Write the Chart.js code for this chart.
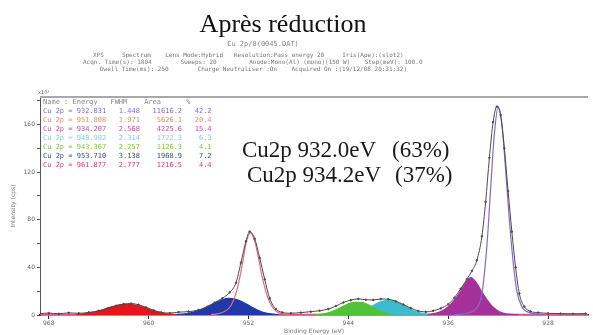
<!DOCTYPE html>
<html>
<head>
<meta charset="utf-8">
<script src="https://cdn.jsdelivr.net/npm/chart.js@4.4.1/dist/chart.umd.min.js"></script>
<style>
  html, body { margin: 0; padding: 0; background: #fff; }
  #xps { display: block; }
</style>
</head>
<body>
<canvas id="xps" width="593" height="335"></canvas>
<script>
// --- DATA (binding energy eV, intensity x10^3 cps) ---

const energyTicks = [968, 960, 952, 944, 936, 928]
const intensityTicks = [0, 20, 40, 60, 80, 100, 120, 140, 160, 180]
const intensityLabels = ['0', '', '40', '', '80', '', '120', '', '160', '']

const rawSpectrum = [
    [968.7, 1.2], [968, 1.6], [967.2, 1.0], [966.4, 1.8], [965.6, 1.4], [964.8, 2.2], [964, 3.5],
    [963.3, 5.5], [962.6, 7.8], [962, 9.2], [961.4, 9.6], [960.8, 8.6], [960.2, 6.4], [959.6, 4.0],
    [959, 2.2], [958.3, 1.6], [957.6, 2.4], [956.8, 2.8], [956, 4.2], [955.3, 7], [954.7, 10.5],
    [954.1, 14], [953.5, 19], [953, 27], [952.6, 44], [952.2, 62], [951.9, 70], [951.5, 64],
    [951.1, 48], [950.7, 30], [950.3, 14], [949.8, 5], [949.3, 2.2], [948.6, 1.5], [947.8, 2.0],
    [947, 2.8], [946.3, 3.6], [945.6, 5], [945, 7.5], [944.4, 10.5], [943.8, 12.5], [943.2, 13.5],
    [942.6, 12.8], [942, 12.6], [941.4, 13.4], [940.8, 13.2], [940.2, 11.5], [939.6, 8.8], [939, 5.8],
    [938.4, 3.4], [937.8, 2.6], [937.2, 3.5], [936.6, 5.5], [936, 9], [935.5, 14.5], [935, 22],
    [934.5, 30], [934.1, 37], [933.7, 46], [933.3, 66], [933, 95], [932.7, 132], [932.4, 162],
    [932.1, 175], [931.8, 168], [931.5, 140], [931.2, 104], [930.9, 70], [930.6, 40], [930.3, 18],
    [929.9, 7], [929.4, 3], [928.8, 2], [928, 1.4], [927, 1.2], [926, 1.0], [925, 1.2]
]

const peak9320 = [
    [935.5, 0.3], [934.5, 1.5], [933.8, 5], [933.3, 18], [932.9, 58], [932.6, 106], [932.3, 152],
    [932.0, 175], [931.7, 160], [931.4, 122], [931.1, 80], [930.8, 45], [930.5, 20], [930.1, 7],
    [929.5, 2], [928.5, 0.5]
]
const peak9518 = [
    [955, 0.3], [954, 2.5], [953.4, 8], [952.9, 22], [952.5, 42], [952.2, 60], [951.85, 69],
    [951.5, 62], [951.2, 48], [950.9, 32], [950.5, 16], [950.1, 7], [949.6, 2], [948.8, 0.4]
]
const peak9342 = [
    [937.6, 0.3], [936.6, 2.8], [936, 7], [935.5, 12.5], [935, 20], [934.6, 27], [934.2, 31.5],
    [933.8, 28], [933.4, 21], [932.9, 13], [932.4, 6.5], [931.9, 2.8], [931.2, 0.8], [930.4, 0.2]
]
const peak9409 = [
    [943.6, 0.3], [942.9, 2.8], [942.2, 6.8], [941.6, 10.2], [941, 12], [940.4, 11.8], [939.8, 9.4],
    [939.2, 6], [938.6, 2.8], [937.9, 0.9], [937, 0.2]
]
const peak9435 = [
    [946.6, 0.2], [945.6, 1.8], [944.9, 4.8], [944.2, 8.4], [943.6, 10.6], [943, 10.6], [942.4, 8.6],
    [941.8, 5.2], [941.2, 2.2], [940.4, 0.4]
]
const peak9537 = [
    [957.8, 0.2], [956.8, 1.5], [955.8, 4.5], [955, 8.5], [954.3, 12], [953.6, 14], [953, 13.2],
    [952.4, 10.5], [951.8, 7], [951.2, 3.8], [950.5, 1.4], [949.6, 0.2]
]
const peak9619 = [
    [965.8, 0.2], [964.8, 1.5], [963.8, 4], [963, 6.8], [962.3, 8.6], [961.6, 9], [960.9, 8],
    [960.2, 5.8], [959.5, 3.2], [958.7, 1.2], [957.8, 0.2]
]
const backgroundLine = [[968.7, 0.6], [924.8, 0.6]]

// fit table shown in the plot corner
const tableHeader = 'Name : Energy   FWHM    Area      %'
const tableRows = [
    'Cu 2p = 932.031   1.448   11616.2   42.2',
    'Cu 2p = 951.808   1.971    5626.1   20.4',
    'Cu 2p = 934.207   2.568    4225.6   15.4',
    'Cu 2p = 940.902   2.314    1722.3    6.3',
    'Cu 2p = 943.367   2.257    1126.3    4.1',
    'Cu 2p = 953.710   3.138    1968.9    7.2',
    'Cu 2p = 961.877   2.777    1216.5    4.4'
]
const tableColors = ['#8a6ad0', '#f08a6a', '#d04aa0', '#7fd2dc', '#7cc83a', '#3a4a8c', '#e2405a']

const headerLines = [
    'XPS     Spectrum    Lens Mode:Hybrid   Resolution:Pass energy 20     Iris(Ape):(slot2)',
    'Acqn. Time(s): 1804        Sweeps: 20         Anode:Mono(Al) (mono)(150 W)    Step(meV): 100.0',
    'Dwell Time(ms): 250        Charge Neutraliser :On    Acquired On :(19/12/08 20:31:32)'
]

const toXY = arr => arr.map(p => ({ x: p[0], y: p[1] }))

// --- DECORATION PLUGIN ---

const decor = {
    id: 'decor',
    beforeDatasetsDraw(chart) {
        const { ctx, chartArea } = chart
        ctx.save()
        ctx.strokeStyle = '#a8a8a8'
        ctx.lineWidth = 2
        ctx.beginPath()
        ctx.moveTo(chartArea.left, chartArea.top)
        ctx.lineTo(chartArea.right, chartArea.top)
        ctx.stroke()
        ctx.restore()
    },
    afterDraw(chart) {
        const { ctx, chartArea } = chart
        ctx.save()

        ctx.fillStyle = '#111'
        ctx.textAlign = 'center'
        ctx.textBaseline = 'alphabetic'
        ctx.font = '26px "Liberation Serif"'
        ctx.fillText('Après réduction', 283, 32)

        ctx.fillStyle = '#888'
        ctx.font = '7px "DejaVu Sans Mono"'
        ctx.fillText('Cu 2p/8(0045.DAT)', 263, 46)

        ctx.textAlign = 'left'
        ctx.font = '6px "DejaVu Sans Mono"'
        ctx.fillStyle = '#777'
        ctx.fillText(headerLines[0], 93, 57, 344)
        ctx.fillText(headerLines[1], 83, 64, 354)
        ctx.fillText(headerLines[2], 100, 71, 347)

        ctx.font = '5px "DejaVu Sans"'
        ctx.fillStyle = '#666'
        ctx.fillText('x10³', chartArea.left - 2, chartArea.top - 3)

        // fit table
        ctx.font = '7px "DejaVu Sans Mono"'
        ctx.fillStyle = '#888'
        ctx.fillText(tableHeader, chartArea.left + 3, chartArea.top + 7, 160)
        tableRows.forEach((row, i) => {
            ctx.fillStyle = tableColors[i]
            ctx.fillText(row, chartArea.left + 3, chartArea.top + 16 + i * 9, 190)
        })

        // annotation
        ctx.fillStyle = '#1a1a1a'
        ctx.font = '23px "Liberation Serif"'
        ctx.fillText('Cu2p 932.0eV', 242, 157)
        ctx.fillText('(63%)', 392, 157)
        ctx.fillText('Cu2p 934.2eV', 247, 182)
        ctx.fillText('(37%)', 395, 182)

        ctx.restore()
    }
}

// --- CHART ---

function lineSet(label, points, color, filled, order) {
    return {
        label: label,
        data: toXY(points),
        borderColor: color,
        backgroundColor: filled ? color : 'transparent',
        fill: filled ? 'origin' : false,
        borderWidth: 1.2,
        pointRadius: 0,
        cubicInterpolationMode: 'monotone',
        order: order
    }
}

function initChart() {
    const ctx = document.getElementById('xps').getContext('2d')

    new Chart(ctx, {
        type: 'line',
        data: {
            datasets: [
                {
                    label: 'Raw',
                    data: toXY(rawSpectrum),
                    borderColor: '#4a4a4a',
                    backgroundColor: '#4a4a4a',
                    borderWidth: 1,
                    pointRadius: 0.8,
                    fill: false,
                    cubicInterpolationMode: 'monotone',
                    order: 0
                },
                lineSet('Cu 2p 932.0', peak9320, '#8a68d0', false, 1),
                lineSet('Cu 2p 951.8', peak9518, '#e86a80', false, 2),
                lineSet('Cu 2p 934.2', peak9342, '#a4309a', true, 3),
                lineSet('Cu 2p 943.4', peak9435, '#52c23a', true, 4),
                lineSet('Cu 2p 940.9', peak9409, '#3cbccc', true, 5),
                lineSet('Cu 2p 953.7', peak9537, '#2038a8', true, 6),
                lineSet('Cu 2p 961.9', peak9619, '#e8141c', true, 7),
                lineSet('Background', backgroundLine, '#e0508a', false, 8)
            ]
        },
        options: {
            responsive: false,
            animation: false,
            devicePixelRatio: 1,
            layout: { padding: { top: 97, left: 0, right: 0, bottom: 0 } },
            plugins: {
                legend: { display: false },
                tooltip: { enabled: false }
            },
            scales: {
                x: {
                    type: 'linear',
                    reverse: true,
                    min: 924.8,
                    max: 968.7,
                    afterBuildTicks: s => { s.ticks = energyTicks.map(v => ({ value: v })) },
                    afterFit: s => { s.height = 20 },
                    ticks: {
                        color: '#666',
                        font: { size: 6, family: 'DejaVu Sans' },
                        maxRotation: 0,
                        padding: 1
                    },
                    grid: { drawOnChartArea: false, tickLength: 4, color: '#333' },
                    border: { display: true, color: '#333', width: 1.5 },
                    title: {
                        display: true,
                        text: 'Binding Energy (eV)',
                        color: '#777',
                        font: { size: 6, family: 'DejaVu Sans' },
                        padding: { top: 0, bottom: 0 }
                    }
                },
                y: {
                    min: 0,
                    max: 183,
                    afterBuildTicks: s => { s.ticks = intensityTicks.map(v => ({ value: v })) },
                    afterFit: s => { s.width = 40 },
                    ticks: {
                        color: '#666',
                        font: { size: 6, family: 'DejaVu Sans' },
                        padding: 2,
                        callback: (v, i) => intensityLabels[intensityTicks.indexOf(v)]
                    },
                    grid: { drawOnChartArea: false, tickLength: 3, color: '#555' },
                    border: { display: true, color: '#555', width: 1 },
                    title: {
                        display: true,
                        text: 'Intensity (cps)',
                        color: '#777',
                        font: { size: 6, family: 'DejaVu Sans' },
                        padding: { top: 10, bottom: 4 }
                    }
                }
            }
        },
        plugins: [decor]
    })
}

document.addEventListener('DOMContentLoaded', () => {
    initChart()
})
</script>
</body>
</html>
